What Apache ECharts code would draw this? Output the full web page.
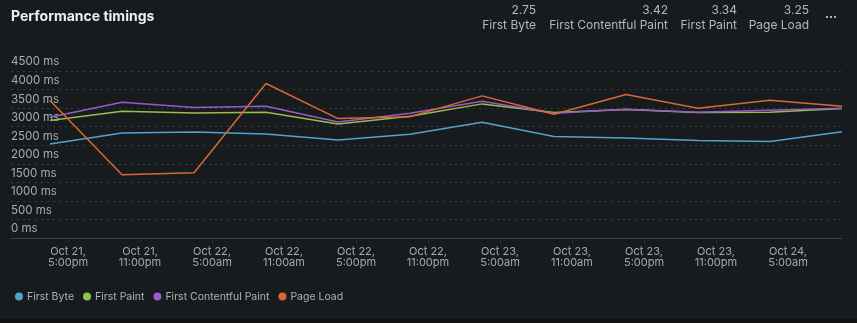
<!DOCTYPE html>
<html>
<head>
<meta charset="utf-8">
<script src="https://cdn.jsdelivr.net/npm/echarts@6/dist/echarts.min.js"></script>
<style>
html,body{margin:0;padding:0;background:#181b1d;}
#chart{width:857px;height:323px;}
</style>
</head>
<body>
<div id="chart"></div>
<script>
const times = ['2024-10-21T15:30:00Z','2024-10-21T21:30:00Z','2024-10-22T03:30:00Z','2024-10-22T09:30:00Z',
  '2024-10-22T15:30:00Z','2024-10-22T21:30:00Z','2024-10-23T03:30:00Z','2024-10-23T09:30:00Z',
  '2024-10-23T15:30:00Z','2024-10-23T21:30:00Z','2024-10-24T03:30:00Z','2024-10-24T09:30:00Z'];
const firstByte = [2532,2830,2857,2803,2641,2793,3117,2738,2695,2630,2603,2865];
const firstPaint = [3163,3414,3370,3387,3073,3279,3614,3379,3460,3379,3387,3487];
const firstContentfulPaint = [3252,3658,3514,3549,3127,3360,3685,3360,3468,3387,3441,3495];
const pageLoad = [3703,1703,1757,4163,3217,3270,3830,3333,3865,3495,3711,3549];
const tickTimes = ['2024-10-21T17:00:00Z','2024-10-21T23:00:00Z','2024-10-22T05:00:00Z','2024-10-22T11:00:00Z',
  '2024-10-22T17:00:00Z','2024-10-22T23:00:00Z','2024-10-23T05:00:00Z','2024-10-23T11:00:00Z',
  '2024-10-23T17:00:00Z','2024-10-23T23:00:00Z','2024-10-24T05:00:00Z'];
const axisMin = '2024-10-21T12:15:00Z';
const axisMax = '2024-10-24T09:30:00Z';
const summaryNames = ['First Byte','First Contentful Paint','First Paint','Page Load'];
const summaryValues = ['2.75','3.42','3.34','3.25'];

const seriesNames = ['First Byte','First Paint','First Contentful Paint','Page Load'];
const seriesData = [firstByte, firstPaint, firstContentfulPaint, pageLoad];
const colors = ['#4fa3cc','#93c04a','#9a5bc8','#d8683a'];

// x positions expressed as hours since a base time
const base = Date.parse('2024-10-21T00:00:00Z');
const hrs = s => (Date.parse(s) - base) / 3600000;
const months = ['Jan','Feb','Mar','Apr','May','Jun','Jul','Aug','Sep','Oct','Nov','Dec'];
function fmt(v){
  const d = new Date(base + v * 3600000);
  let h = d.getUTCHours(); const ap = h >= 12 ? 'pm' : 'am';
  h = h % 12; if (h === 0) h = 12;
  const m = String(d.getUTCMinutes()).padStart(2,'0');
  return months[d.getUTCMonth()] + ' ' + d.getUTCDate() + ',\n' + h + ':' + m + ap;
}

const chart = echarts.init(document.getElementById('chart'), null, {renderer:'canvas'});
const font = 'Inter, "Noto Sans", sans-serif';
const summaryRight = [536, 668, 737, 809];
const graphics = [
  {type:'text', left:11, top:10, style:{text:'Performance timings', fill:'#eceeef', font:'bold 14px ' + font}},
  {type:'text', left:825, top:8, style:{text:'...', fill:'#c8ccd0', font:'bold 12px ' + font}},
  {type:'rect', left:0, top:319, shape:{width:857, height:4}, style:{fill:'#101214'}}
];
summaryNames.forEach((n,i)=>{
  graphics.push({type:'text', x:summaryRight[i], y:4, style:{text:summaryValues[i], fill:'#b4b8bc', font:'12px ' + font, align:'right'}});
  graphics.push({type:'text', x:summaryRight[i], y:19, style:{text:n, fill:'#b4b8bc', font:'12px ' + font, align:'right'}});
});

const tickVals = tickTimes.map(hrs);

chart.setOption({
  backgroundColor:'#181b1d',
  animation:false,
  color: colors,
  textStyle:{fontFamily:font},
  graphic: graphics,
  legend:{
    left:15, top:291, padding:0, icon:'circle', itemWidth:8, itemHeight:8, itemGap:9,
    textStyle:{color:'#aeb2b6', fontSize:10.5, fontFamily:font, padding:[0,0,0,-1]},
    data: seriesNames
  },
  grid:{left:11, right:15, top:71, bottom:85, containLabel:false},
  xAxis:{
    type:'value', min: hrs(axisMin), max: hrs(axisMax),
    axisLine:{show:true, lineStyle:{color:'#3d4145', width:1}},
    axisTick:{show:true, customValues: tickVals, length:5, lineStyle:{color:'#3a3e42', type:'dotted'}},
    axisLabel:{customValues: tickVals, formatter: fmt, color:'#a4a8ac', fontSize:11, lineHeight:11, margin:8, fontFamily:font, hideOverlap:false},
    splitLine:{show:false}
  },
  yAxis:{
    type:'value', min:0, max:4500, interval:500,
    axisLine:{show:false}, axisTick:{show:false},
    axisLabel:{inside:true, margin:0, verticalAlign:'bottom', padding:[0,0,3,0], formatter: v => v + ' ms', color:'#a8acb0', fontSize:11.5, fontFamily:font},
    splitLine:{show:true, lineStyle:{color:'#393c40', type:[2,4], width:1}}
  },
  series: seriesNames.map((n,i)=>({
    name:n, type:'line', showSymbol:false, symbol:'none',
    lineStyle:{width:1.5, color:colors[i]}, itemStyle:{color:colors[i]},
    data: times.map((t,j)=>[hrs(t), seriesData[i][j]])
  }))
});
</script>
</body>
</html>
